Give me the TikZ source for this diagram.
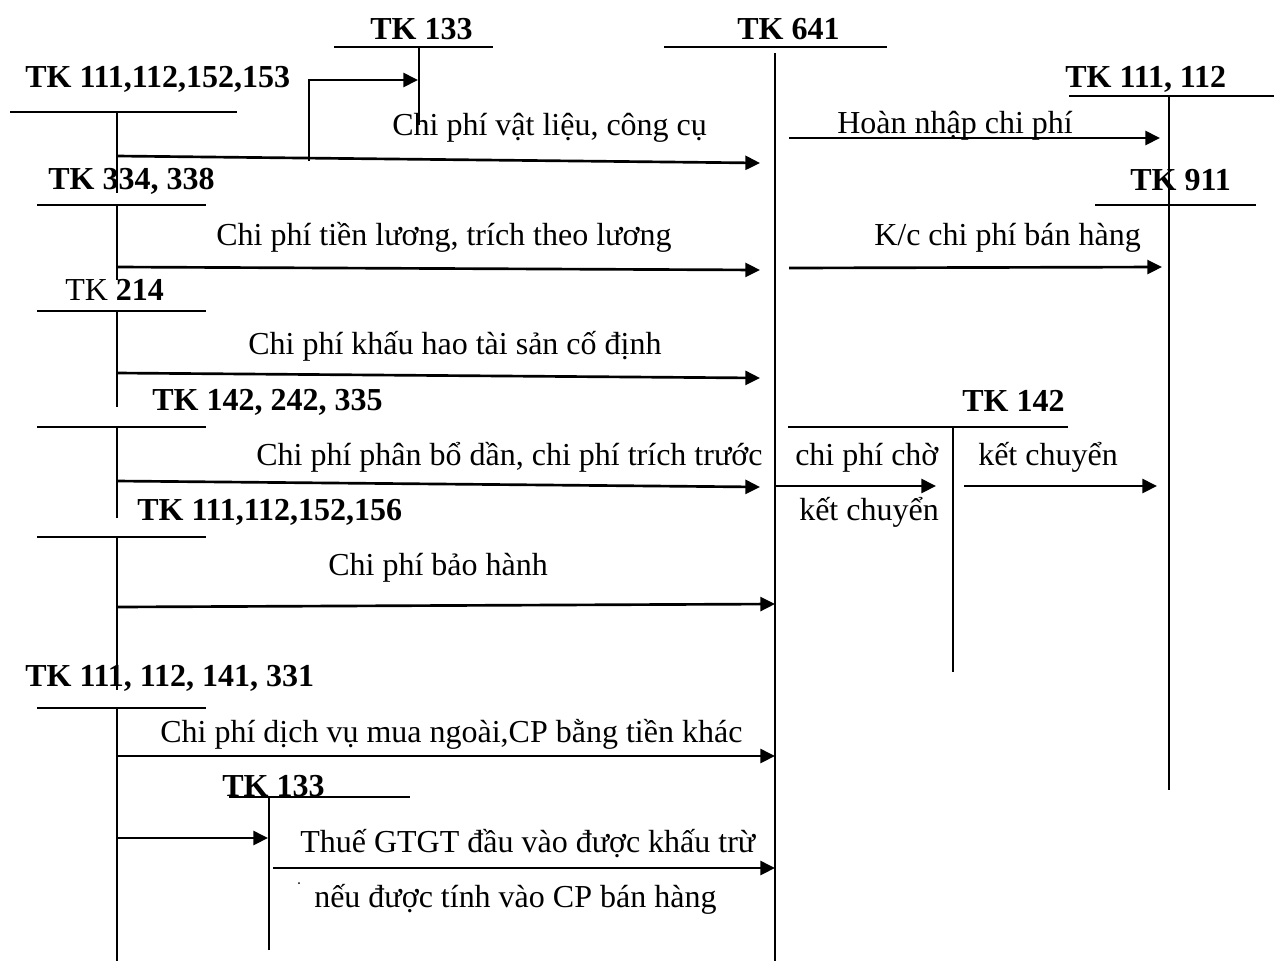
\documentclass[tikz,border=0pt]{standalone}
\usepackage{fontspec}
\setmainfont{Liberation Serif}
\usetikzlibrary{arrows.meta}
\begin{document}
\begin{tikzpicture}[x=0.75pt,y=-0.75pt,
  acct/.style={line width=1.5pt},
  flow/.style={line width=2pt,-{Triangle[length=11pt,width=10.5pt]}},
  lbl/.style={anchor=base west,inner sep=0pt,font=\fontsize{24}{28}\selectfont},
  hd/.style={anchor=base west,inner sep=0pt,font=\fontsize{24}{28}\selectfont\bfseries}]
\useasboundingbox[fill=white] (0,0) rectangle (1274,961);

% ---- account headings ----
\node[hd]  (h153)  at (25,87)   {TK 111,112,152,153};
\node[hd]  (h133a) at (370,39)  {TK 133};
\node[hd]  (h641)  at (737,39)  {TK 641};
\node[hd]  (h112r) at (1065,87) {TK 111, 112};
\node[hd]  (h911)  at (1130,190){TK 911};
\node[hd]  (h338)  at (48,189)  {TK 334, 338};
\node[lbl] (h214)  at (65,300)  {TK \textbf{214}};
\node[hd]  (h335)  at (152,410) {TK 142, 242, 335};
\node[hd]  (h142)  at (962,411) {TK 142};
\node[hd]  (h156)  at (137,520) {TK 111,112,152,156};
\node[hd]  (h331)  at (25,686)  {TK 111, 112, 141, 331};
\node[hd]  (h133b) at (222,796) {TK 133};

% ---- T-account lines ----
\coordinate (a1l) at (10,112);   \coordinate (a1r) at (237,112);
\coordinate (a1t) at (117,112);  \coordinate (a1b) at (117,193);
\coordinate (a2l) at (334,47);   \coordinate (a2r) at (493,47);
\coordinate (a2t) at (419,47);   \coordinate (a2b) at (419,125);
\coordinate (a3l) at (664,47);   \coordinate (a3r) at (887,47);
\coordinate (a3t) at (775,53);   \coordinate (a3b) at (775,961);
\coordinate (a4l) at (1069,96);  \coordinate (a4r) at (1274,96);
\coordinate (a4t) at (1169,96);  \coordinate (a4b) at (1169,790);
\coordinate (a5l) at (1095,205); \coordinate (a5r) at (1256,205);
\coordinate (a6l) at (37,205);   \coordinate (a6r) at (206,205);
\coordinate (a6t) at (117,205);  \coordinate (a6b) at (117,280);
\coordinate (a7l) at (37,311);   \coordinate (a7r) at (206,311);
\coordinate (a7t) at (117,311);  \coordinate (a7b) at (117,407);
\coordinate (a8l) at (37,427);   \coordinate (a8r) at (206,427);
\coordinate (a8t) at (117,427);  \coordinate (a8b) at (117,518);
\coordinate (a9l) at (788,427);  \coordinate (a9r) at (1068,427);
\coordinate (a9t) at (953,427);  \coordinate (a9b) at (953,672);
\coordinate (a10l) at (37,537);  \coordinate (a10r) at (206,537);
\coordinate (a10t) at (117,537); \coordinate (a10b) at (117,690);
\coordinate (a11l) at (37,708);  \coordinate (a11r) at (206,708);
\coordinate (a11t) at (117,708); \coordinate (a11b) at (117,961);
\coordinate (a12l) at (229,797); \coordinate (a12r) at (410,797);
\coordinate (a12t) at (269,797); \coordinate (a12b) at (269,950);

\foreach \n in {1,2,3,4,6,7,8,9,10,11,12}{
  \draw[acct] (a\n l) -- (a\n r);
  \draw[acct] (a\n t) -- (a\n b);
}
\draw[acct] (a5l) -- (a5r);

% ---- entries ----
\coordinate (f1s) at (117,156);  \coordinate (f1e) at (760,163);
\coordinate (f1b) at (309,161);  \coordinate (f1t) at (418,80);
\coordinate (f2s) at (789,138);  \coordinate (f2e) at (1160,138);
\coordinate (f3s) at (117,267);  \coordinate (f3e) at (760,270);
\coordinate (f4s) at (789,268);  \coordinate (f4e) at (1162,267);
\coordinate (f5s) at (117,373);  \coordinate (f5e) at (760,378);
\coordinate (f6s) at (117,481);  \coordinate (f6e) at (760,487);
\coordinate (f7s) at (775,486);  \coordinate (f7e) at (936,486);
\coordinate (f8s) at (964,486);  \coordinate (f8e) at (1157,486);
\coordinate (f9s) at (117,607);  \coordinate (f9e) at (775,604);
\coordinate (f10s) at (117,756); \coordinate (f10e) at (775,756);
\coordinate (f11s) at (117,838); \coordinate (f11e) at (268,838);
\coordinate (f12s) at (273,868); \coordinate (f12e) at (775,868);

\foreach \n in {1,2,3,4,5,6,7,8,9,10,11,12}{
  \draw[flow] (f\n s) -- (f\n e);
}
\draw[flow] (f1b) |- (f1t);

% ---- entry texts ----
\node[lbl] (t1)  at (392,135) {Chi phí vật liệu, công cụ};
\node[lbl] (t2)  at (837,133) {Hoàn nhập chi phí};
\node[lbl] (t3)  at (216,245) {Chi phí tiền lương, trích theo lương};
\node[lbl] (t4)  at (874,245) {K/c chi phí bán hàng};
\node[lbl] (t5)  at (248,354) {Chi phí khấu hao tài sản cố định};
\node[lbl] (t6)  at (256,465) {Chi phí phân bổ dần, chi phí trích trước};
\node[lbl] (t7a) at (795,465) {chi phí chờ};
\node[lbl] (t7b) at (799,520) {kết chuyển};
\node[lbl] (t8)  at (978,465) {kết chuyển};
\node[lbl] (t9)  at (328,575) {Chi phí bảo hành};
\node[lbl] (t10) at (160,742) {Chi phí dịch vụ mua ngoài,CP bằng tiền khác};
\node[lbl] (t12a) at (300,852) {Thuế GTGT đầu vào được khấu trừ};
\node[lbl] (t12b) at (314,907) {nếu được tính vào CP bán hàng};
\fill (299,883) circle (1);
\end{tikzpicture}
\end{document}
